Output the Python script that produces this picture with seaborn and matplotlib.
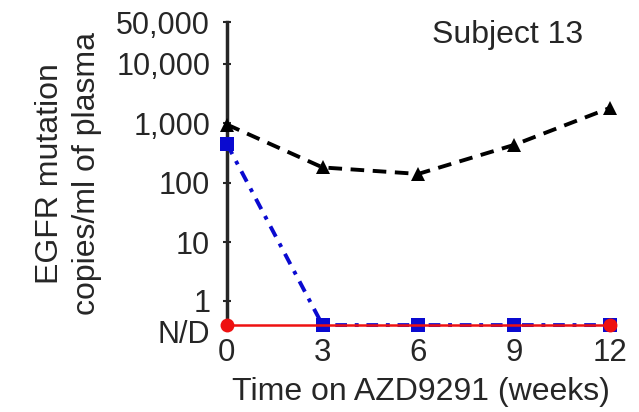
import matplotlib
matplotlib.use("Agg")
import matplotlib.pyplot as plt
import matplotlib.ticker as mticker
import matplotlib.transforms as mtransforms
import seaborn as sns
import pandas as pd

# ---- data ----
weeks = [0, 3, 6, 9, 12]
ND = 0.4  # plotted position of "N/D"
black_series = [950, 180, 140, 430, 1800]
blue_series = [450, ND, ND, ND, ND]
red_series = [ND, ND, ND, ND, ND]
ytick_vals = [ND, 1, 10, 100, 1000, 10000, 50000]
ytick_labels = ["N/D", "1", "10", "100", "1,000", "10,000", "50,000"]
xtick_vals = [0, 3, 6, 9, 12]
title_text = "Subject 13"

sns.set_style("ticks")
plt.rcParams["font.family"] = ["Liberation Sans", "DejaVu Sans"]

fig = plt.figure(figsize=(6.39, 4.12), dpi=100)
ax = fig.add_axes([0.355, 0.211, 0.609, 0.735])

df = pd.DataFrame({"week": weeks, "black": black_series,
                   "blue": blue_series, "red": red_series})

# black dashed triangles
sns.lineplot(data=df, x="week", y="black", ax=ax, color="black",
             marker="^", markersize=10, markeredgewidth=0, linewidth=2.8,
             clip_on=False, zorder=3)
ax.lines[-1].set_dashes([3.5, 2.2])

# blue dash-dot squares
sns.lineplot(data=df, x="week", y="blue", ax=ax, color="#0a0ad0",
             marker="s", markersize=10.5, markeredgewidth=0, linewidth=2.8,
             clip_on=False, zorder=3)
ax.lines[-1].set_dashes([3.0, 2.0, 1.0, 2.0])

# red solid line with circles
sns.lineplot(data=df, x="week", y="red", ax=ax, color="#ee1111",
             marker="o", markersize=10, markeredgewidth=0, linewidth=1.8,
             markevery=[0, 4], clip_on=False, zorder=4)

ax.set_yscale("log")
ax.set_ylim(ND, 50000)
ax.set_xlim(0, 12.2)

ax.set_yticks(ytick_vals)
ax.set_yticklabels(ytick_labels)
ax.yaxis.set_minor_locator(mticker.LogLocator(base=10, subs=range(2, 10)))
ax.yaxis.set_minor_formatter(mticker.NullFormatter())
ax.set_xticks(xtick_vals)
ax.set_xticklabels([str(v) for v in xtick_vals])

ax.tick_params(axis="y", which="major", direction="inout", length=6,
               width=1.5, labelsize=22, pad=9)
ax.tick_params(axis="y", which="minor", direction="out", length=3, width=1)
ax.tick_params(axis="x", which="major", length=0, labelsize=22.5, pad=9)

# nudge the N/D label slightly down, as in the reference
nd_label = ax.get_yticklabels()[0]
nd_label.set_transform(nd_label.get_transform() +
                       mtransforms.ScaledTranslation(0, -6 / 100, fig.dpi_scale_trans))
one_label = ax.get_yticklabels()[1]
one_label.set_transform(one_label.get_transform() +
                        mtransforms.ScaledTranslation(0, 1 / 100, fig.dpi_scale_trans))

for s in ["top", "right", "bottom"]:
    ax.spines[s].set_visible(False)
ax.spines["left"].set_linewidth(2.5)

ax.set_xlabel("Time on AZD9291 (weeks)", fontsize=23, labelpad=7)
ax.set_ylabel("EGFR mutation\ncopies/ml of plasma", fontsize=23,
              labelpad=10, linespacing=1.3)

ax.text(0.722, 0.958, title_text, transform=ax.transAxes, ha="center",
        va="center", fontsize=23)

fig.savefig("out.png", dpi=100)
